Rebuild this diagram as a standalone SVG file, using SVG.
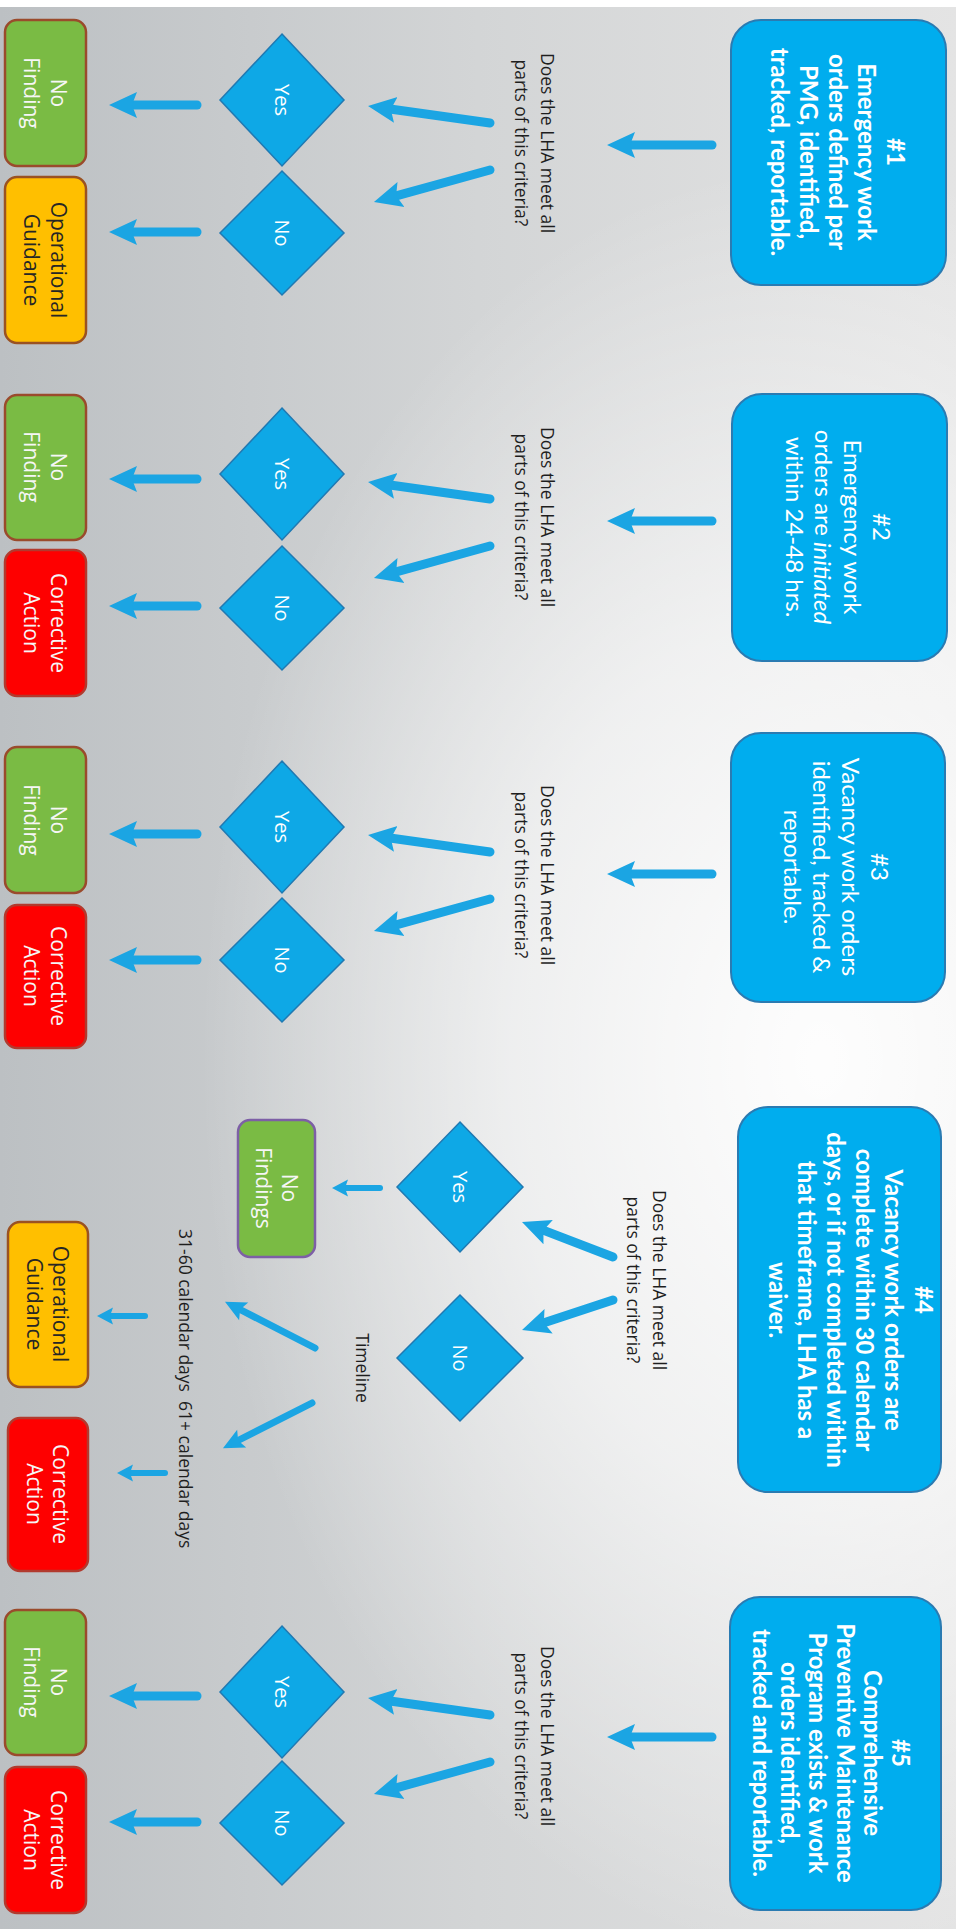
<svg xmlns="http://www.w3.org/2000/svg" width="956" height="1929" viewBox="0 0 956 1929">
<defs>
<linearGradient id="bgl" x1="0" y1="0" x2="1" y2="0">
<stop offset="0" stop-color="#bcc0c3"/>
<stop offset="0.5" stop-color="#d3d5d6"/>
<stop offset="1" stop-color="#e4e4e4"/>
</linearGradient>
<radialGradient id="bgr" gradientUnits="userSpaceOnUse" cx="820" cy="1060" r="620" gradientTransform="translate(820 1060) scale(1 1.45) translate(-820 -1060)">
<stop offset="0" stop-color="#ffffff" stop-opacity="0.95"/>
<stop offset="0.5" stop-color="#ffffff" stop-opacity="0.6"/>
<stop offset="1" stop-color="#ffffff" stop-opacity="0"/>
</radialGradient>
<marker id="hb" markerUnits="userSpaceOnUse" markerWidth="32" markerHeight="30" viewBox="-4 -15 32 30" refX="0" refY="0" orient="auto">
<path d="M-4,-13 L24,0 L-4,13 L1,0 Z" fill="#1ba5e3"/>
</marker>
<marker id="hm" markerUnits="userSpaceOnUse" markerWidth="26" markerHeight="24" viewBox="-4 -12 26 24" refX="0" refY="0" orient="auto">
<path d="M-3,-10 L18,0 L-3,10 L1,0 Z" fill="#1ba5e3"/>
</marker>
<marker id="hs" markerUnits="userSpaceOnUse" markerWidth="20" markerHeight="20" viewBox="-3 -10 20 20" refX="0" refY="0" orient="auto">
<path d="M-2,-8.5 L14,0 L-2,8.5 L1,0 Z" fill="#1ba5e3"/>
</marker>
<style>
.bx{fill:#00adee;stroke:#2a7bb2;stroke-width:2}
.bt{font-family:Lato,'Open Sans',sans-serif;font-weight:700;font-size:24px;fill:#fff;text-anchor:middle;dominant-baseline:central}
.btr{font-weight:400}
.dm{fill:#0ea8e6;stroke:#2079b2;stroke-width:1.5}
.dt{font-family:'Open Sans','Noto Sans',sans-serif;font-size:20px;fill:#fff;text-anchor:middle;dominant-baseline:central}
.q{font-family:'Open Sans','Noto Sans',sans-serif;font-size:17.5px;fill:#1e1e1e;text-anchor:middle;dominant-baseline:central}
.ar{fill:none;stroke:#1ba5e3;stroke-width:9;stroke-linecap:round;marker-end:url(#hb)}
.am{fill:none;stroke:#1ba5e3;stroke-width:7;stroke-linecap:round;marker-end:url(#hm)}
.as{fill:none;stroke:#1ba5e3;stroke-width:6;stroke-linecap:round;marker-end:url(#hs)}
.nf{fill:#7abb44;stroke:#9a4b2c;stroke-width:2.5}
.nfp{stroke:#7d5fa6}
.og{fill:#ffbf00;stroke:#9a5222;stroke-width:2.5}
.ca{fill:#fe0000;stroke:#b23a2e;stroke-width:2.5}
.ot{font-family:'Open Sans','Noto Sans',sans-serif;font-size:21px;fill:#f6f6f6;text-anchor:middle;dominant-baseline:central}
.otd{fill:#262626}
</style>
</defs>

<rect x="0" y="0" width="956" height="1929" fill="#ffffff"/>
<rect x="0" y="7" width="956" height="1922" fill="url(#bgl)"/>
<rect x="0" y="7" width="956" height="1922" fill="url(#bgr)"/>

<g id="connectors">
<!-- section 1 -->
<line class="ar" x1="712" y1="145" x2="631" y2="145"/>
<line class="ar" x1="490" y1="123" x2="391.8" y2="109.3"/>
<line class="ar" x1="490" y1="170" x2="397.1" y2="195.6"/>
<line class="ar" x1="197" y1="105" x2="133" y2="105"/>
<line class="ar" x1="197" y1="232" x2="133" y2="232"/>
<!-- section 2 -->
<line class="ar" x1="712" y1="521" x2="631" y2="521"/>
<line class="ar" x1="490" y1="499" x2="391.8" y2="485.3"/>
<line class="ar" x1="490" y1="546" x2="397.1" y2="571.6"/>
<line class="ar" x1="197" y1="479" x2="133" y2="479"/>
<line class="ar" x1="197" y1="606" x2="133" y2="606"/>
<!-- section 3 -->
<line class="ar" x1="712" y1="874" x2="631" y2="874"/>
<line class="ar" x1="490" y1="852" x2="391.8" y2="838.3"/>
<line class="ar" x1="490" y1="899" x2="397.1" y2="924.6"/>
<line class="ar" x1="197" y1="834" x2="133" y2="834"/>
<line class="ar" x1="197" y1="960" x2="133" y2="960"/>
<!-- section 4 -->
<line class="ar" x1="613" y1="1257" x2="544.4" y2="1230.6"/>
<line class="ar" x1="613" y1="1300" x2="544.8" y2="1322.5"/>
<line class="as" x1="380" y1="1188" x2="346" y2="1188"/>
<line class="am" x1="315" y1="1348" x2="241" y2="1310"/>
<line class="am" x1="312" y1="1403" x2="239" y2="1440"/>
<line class="as" x1="145" y1="1316" x2="111" y2="1316"/>
<line class="as" x1="165" y1="1473" x2="131" y2="1473"/>
<!-- section 5 -->
<line class="ar" x1="712" y1="1737" x2="631" y2="1737"/>
<line class="ar" x1="490" y1="1715" x2="391.8" y2="1701.3"/>
<line class="ar" x1="490" y1="1762" x2="397.1" y2="1787.6"/>
<line class="ar" x1="197" y1="1696" x2="133" y2="1696"/>
<line class="ar" x1="197" y1="1822" x2="133" y2="1822"/>
</g>

<!-- ===== Section 1 ===== -->
<g id="box1">
<rect class="bx" x="731" y="20" width="215" height="265" rx="30"/>
<text class="bt" transform="translate(896 152) rotate(90)">#1</text>
<text class="bt" transform="translate(867 152) rotate(90)">Emergency work</text>
<text class="bt" transform="translate(838 152) rotate(90)">orders defined per</text>
<text class="bt" transform="translate(809 152) rotate(90)">PMG, identified,</text>
<text class="bt" transform="translate(780 152) rotate(90)">tracked, reportable.</text>
</g>
<g id="q1">
<text class="q" transform="translate(548 143) rotate(90)">Does the LHA meet all</text>
<text class="q" transform="translate(522 143) rotate(90)">parts of this criteria?</text>
</g>
<g id="yes1">
<polygon class="dm" points="282,34 344,100 282,166 220,100"/>
<text class="dt" transform="translate(282 100) rotate(90)">Yes</text>
</g>
<g id="no1">
<polygon class="dm" points="282,171 344,233 282,295 220,233"/>
<text class="dt" transform="translate(282 233) rotate(90)">No</text>
</g>
<g id="nofinding1">
<rect class="nf" x="5" y="20" width="81" height="146" rx="12"/>
<text class="ot" transform="translate(59 93) rotate(90)">No</text>
<text class="ot" transform="translate(32 93) rotate(90)">Finding</text>
</g>
<g id="opguid1">
<rect class="og" x="5" y="177" width="81" height="166" rx="12"/>
<text class="ot otd" transform="translate(59 260) rotate(90)">Operational</text>
<text class="ot otd" transform="translate(32 260) rotate(90)">Guidance</text>
</g>

<!-- ===== Section 2 ===== -->
<g id="box2">
<rect class="bx" x="732" y="394" width="215" height="267" rx="30"/>
<text class="bt btr" transform="translate(882 527) rotate(90)">#2</text>
<text class="bt btr" transform="translate(853 527) rotate(90)">Emergency work</text>
<text class="bt btr" transform="translate(824 527) rotate(90)">orders are <tspan font-style="italic">initiated</tspan></text>
<text class="bt btr" transform="translate(795 527) rotate(90)">within 24-48 hrs.</text>
</g>
<g id="q2">
<text class="q" transform="translate(548 517) rotate(90)">Does the LHA meet all</text>
<text class="q" transform="translate(522 517) rotate(90)">parts of this criteria?</text>
</g>
<g id="yes2">
<polygon class="dm" points="282,408 344,474 282,540 220,474"/>
<text class="dt" transform="translate(282 474) rotate(90)">Yes</text>
</g>
<g id="no2">
<polygon class="dm" points="282,546 344,608 282,670 220,608"/>
<text class="dt" transform="translate(282 608) rotate(90)">No</text>
</g>
<g id="nofinding2">
<rect class="nf" x="5" y="395" width="81" height="145" rx="12"/>
<text class="ot" transform="translate(59 467) rotate(90)">No</text>
<text class="ot" transform="translate(32 467) rotate(90)">Finding</text>
</g>
<g id="corrective2">
<rect class="ca" x="5" y="550" width="81" height="146" rx="12"/>
<text class="ot" transform="translate(59 623) rotate(90)">Corrective</text>
<text class="ot" transform="translate(32 623) rotate(90)">Action</text>
</g>

<!-- ===== Section 3 ===== -->
<g id="box3">
<rect class="bx" x="731" y="733" width="214" height="269" rx="30"/>
<text class="bt btr" transform="translate(880 867) rotate(90)">#3</text>
<text class="bt btr" transform="translate(851 867) rotate(90)">Vacancy work orders</text>
<text class="bt btr" transform="translate(822 867) rotate(90)">identified, tracked &amp;</text>
<text class="bt btr" transform="translate(793 867) rotate(90)">reportable.</text>
</g>
<g id="q3">
<text class="q" transform="translate(548 875) rotate(90)">Does the LHA meet all</text>
<text class="q" transform="translate(522 875) rotate(90)">parts of this criteria?</text>
</g>
<g id="yes3">
<polygon class="dm" points="282,761 344,827 282,893 220,827"/>
<text class="dt" transform="translate(282 827) rotate(90)">Yes</text>
</g>
<g id="no3">
<polygon class="dm" points="282,898 344,960 282,1022 220,960"/>
<text class="dt" transform="translate(282 960) rotate(90)">No</text>
</g>
<g id="nofinding3">
<rect class="nf" x="5" y="747" width="81" height="146" rx="12"/>
<text class="ot" transform="translate(59 820) rotate(90)">No</text>
<text class="ot" transform="translate(32 820) rotate(90)">Finding</text>
</g>
<g id="corrective3">
<rect class="ca" x="5" y="905" width="81" height="143" rx="12"/>
<text class="ot" transform="translate(59 976) rotate(90)">Corrective</text>
<text class="ot" transform="translate(32 976) rotate(90)">Action</text>
</g>

<!-- ===== Section 4 ===== -->
<g id="box4">
<rect class="bx" x="738" y="1107" width="203" height="385" rx="30"/>
<text class="bt" transform="translate(924 1300) rotate(90)">#4</text>
<text class="bt" transform="translate(894 1300) rotate(90)">Vacancy work orders are</text>
<text class="bt" transform="translate(865 1300) rotate(90)">complete within 30 calendar</text>
<text class="bt" transform="translate(836 1300) rotate(90)">days, or if not completed within</text>
<text class="bt" transform="translate(807 1300) rotate(90)">that timeframe, LHA has a</text>
<text class="bt" transform="translate(778 1300) rotate(90)">waiver.</text>
</g>
<g id="q4">
<text class="q" transform="translate(660 1280) rotate(90)">Does the LHA meet all</text>
<text class="q" transform="translate(634 1280) rotate(90)">parts of this criteria?</text>
</g>
<g id="yes4">
<polygon class="dm" points="460,1122 523,1187 460,1252 397,1187"/>
<text class="dt" transform="translate(460 1187) rotate(90)">Yes</text>
</g>
<g id="no4">
<polygon class="dm" points="460,1295 523,1358 460,1421 397,1358"/>
<text class="dt" transform="translate(460 1358) rotate(90)">No</text>
</g>
<g id="nofindings4">
<rect class="nf nfp" x="238" y="1120" width="77" height="137" rx="12"/>
<text class="ot" transform="translate(290 1188) rotate(90)">No</text>
<text class="ot" transform="translate(264 1188) rotate(90)">Findings</text>
</g>
<g id="timeline4">
<text class="q" transform="translate(363 1368) rotate(90)">Timeline</text>
</g>
<g id="days4">
<text class="q" xml:space="preserve" style="text-anchor:start" transform="translate(186 1229) rotate(90)">31-60 calendar days  61+ calendar days</text>
</g>
<g id="opguid4">
<rect class="og" x="8" y="1222" width="80" height="165" rx="12"/>
<text class="ot otd" transform="translate(61 1304) rotate(90)">Operational</text>
<text class="ot otd" transform="translate(35 1304) rotate(90)">Guidance</text>
</g>
<g id="corrective4">
<rect class="ca" x="8" y="1418" width="80" height="153" rx="12"/>
<text class="ot" transform="translate(61 1494) rotate(90)">Corrective</text>
<text class="ot" transform="translate(35 1494) rotate(90)">Action</text>
</g>

<!-- ===== Section 5 ===== -->
<g id="box5">
<rect class="bx" x="730" y="1597" width="211" height="313" rx="30"/>
<text class="bt" transform="translate(901 1753) rotate(90)">#5</text>
<text class="bt" transform="translate(873 1753) rotate(90)">Comprehensive</text>
<text class="bt" transform="translate(846 1753) rotate(90)">Preventive Maintenance</text>
<text class="bt" transform="translate(818 1753) rotate(90)">Program exists &amp; work</text>
<text class="bt" transform="translate(790 1753) rotate(90)">orders identified,</text>
<text class="bt" transform="translate(762 1753) rotate(90)">tracked and reportable.</text>
</g>
<g id="q5">
<text class="q" transform="translate(548 1736) rotate(90)">Does the LHA meet all</text>
<text class="q" transform="translate(522 1736) rotate(90)">parts of this criteria?</text>
</g>
<g id="yes5">
<polygon class="dm" points="282,1626 344,1692 282,1758 220,1692"/>
<text class="dt" transform="translate(282 1692) rotate(90)">Yes</text>
</g>
<g id="no5">
<polygon class="dm" points="282,1761 344,1823 282,1885 220,1823"/>
<text class="dt" transform="translate(282 1823) rotate(90)">No</text>
</g>
<g id="nofinding5">
<rect class="nf" x="5" y="1610" width="81" height="145" rx="12"/>
<text class="ot" transform="translate(59 1682) rotate(90)">No</text>
<text class="ot" transform="translate(32 1682) rotate(90)">Finding</text>
</g>
<g id="corrective5">
<rect class="ca" x="5" y="1767" width="81" height="146" rx="12"/>
<text class="ot" transform="translate(59 1840) rotate(90)">Corrective</text>
<text class="ot" transform="translate(32 1840) rotate(90)">Action</text>
</g>
</svg>
